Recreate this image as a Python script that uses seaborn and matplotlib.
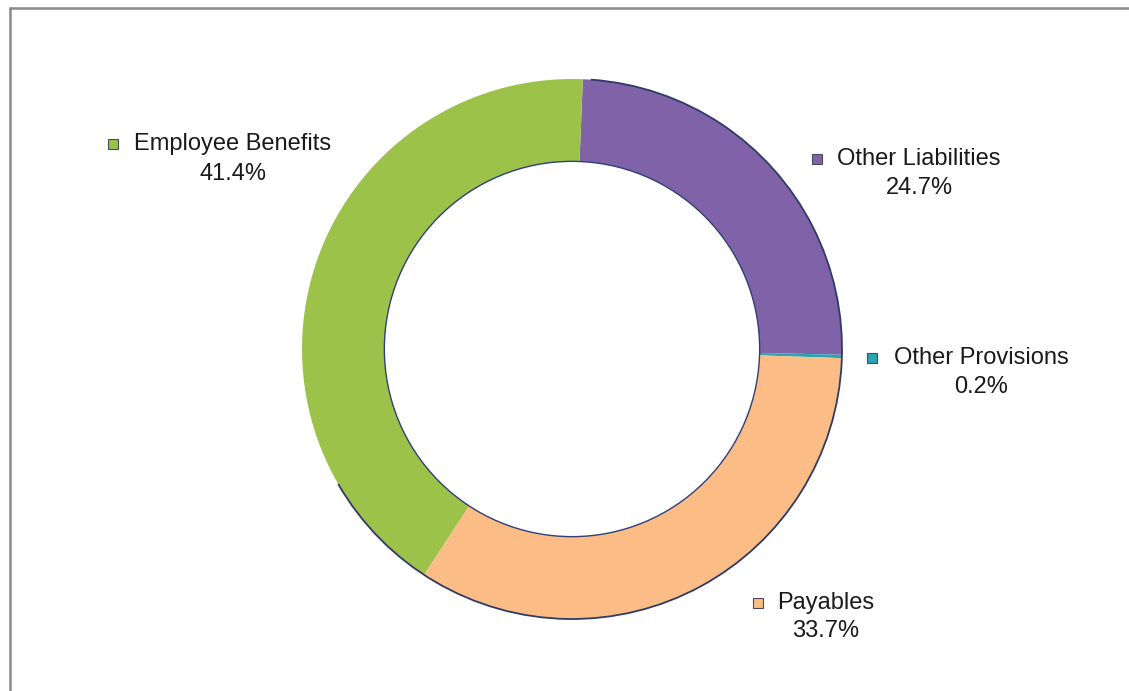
import matplotlib
matplotlib.use("Agg")
import matplotlib.pyplot as plt
import seaborn as sns
from matplotlib.patches import Rectangle, Circle, Arc
from matplotlib.lines import Line2D

categories = ["Other Liabilities", "Other Provisions", "Payables", "Employee Benefits"]
shares = [24.7, 0.2, 33.7, 41.4]
pct_labels = ["24.7%", "0.2%", "33.7%", "41.4%"]
colors = ["#8062a8", "#2aa3b3", "#fbbd85", "#9cc24a"]

sns.set_theme(style="white")
plt.rcParams['font.family'] = ['Liberation Sans', 'DejaVu Sans']

W, H = 1129, 691
fig = plt.figure(figsize=(W / 100, H / 100), dpi=100)
ax = fig.add_axes([0, 0, 1, 1])

cx, cy, r = 572, 342, 270
wedges, _ = ax.pie(shares, colors=colors, startangle=87.7, counterclock=False,
                   center=(cx, cy), radius=r, frame=True,
                   wedgeprops=dict(width=r * 0.305, edgecolor='none', linewidth=0))
ax.set_xlim(0, W)
ax.set_ylim(0, H)
ax.set_aspect('equal')
ax.axis('off')

# subtle outlines
ax.add_patch(Circle((cx, cy), r * 0.695, fill=False, edgecolor='#2f3f78', linewidth=1.0))
ax.add_patch(Arc((cx, cy), 2 * r, 2 * r, theta1=-150, theta2=86, edgecolor='#2f3a66', linewidth=1.3))

# labels: (text center x, line1 y, line2 y, marker x) in pixel coordinates (y from top)
label_pos = {
    "Employee Benefits": (233, 144, 174, 113),
    "Other Liabilities": (919, 159, 188, 817),
    "Other Provisions": (981, 358, 387, 872),
    "Payables": (826, 603, 631, 758),
}
for cat, pct, col in zip(categories, pct_labels, colors):
    tx, y1, y2, mx = label_pos[cat]
    ax.text(tx, H - y1, cat, ha='center', va='center', fontsize=17, color='#1a1a1a')
    ax.text(tx, H - y2, pct, ha='center', va='center', fontsize=17, color='#1a1a1a')
    s = 10
    ax.add_patch(Rectangle((mx - s / 2, H - y1 - s / 2), s, s, facecolor=col,
                           edgecolor='#4a4a5a', linewidth=0.8))

# frame lines (left and top)
fig.add_artist(Line2D([10 / W, 10 / W], [0, 1 - 8 / H], transform=fig.transFigure,
                      color='#8a8a8a', linewidth=1.8))
fig.add_artist(Line2D([10 / W, 1], [1 - 8 / H, 1 - 8 / H], transform=fig.transFigure,
                      color='#8a8a8a', linewidth=1.8))

fig.savefig("out.png", dpi=100, facecolor='white')
